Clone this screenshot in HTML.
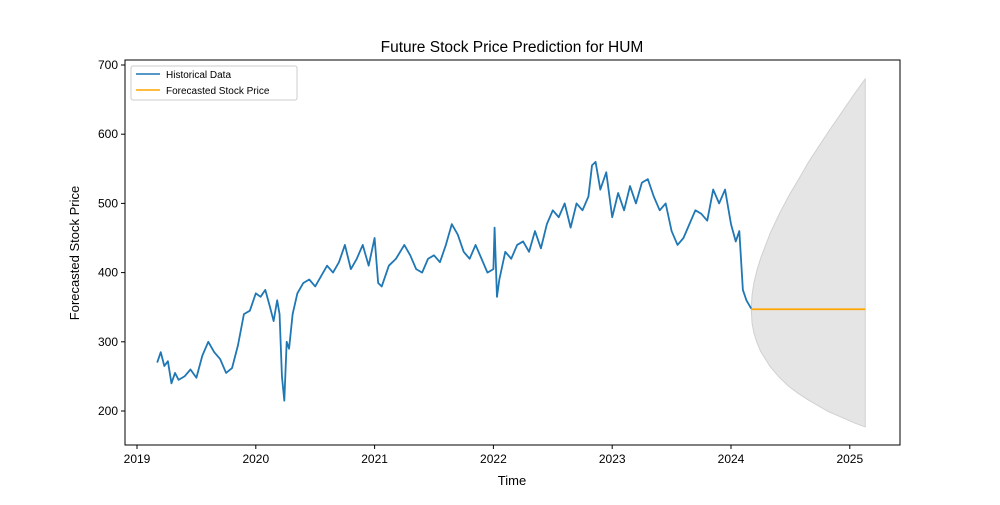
<!DOCTYPE html>
<html><head><meta charset="utf-8"><style>
body{margin:0;background:#fff;}
svg{font-family:"Liberation Sans","DejaVu Sans",sans-serif;}
</style></head><body>
<svg id="chart" width="1000" height="500" viewBox="0 0 1000 500">
<rect width="1000" height="500" fill="#fff"/>
<text x="512" y="52" font-size="15.5" text-anchor="middle">Future Stock Price Prediction for HUM</text>
<text x="512" y="485" font-size="13" text-anchor="middle">Time</text>
<text transform="translate(79,253) rotate(-90)" font-size="13" text-anchor="middle">Forecasted Stock Price</text>
<g id="band"></g><g id="hist"></g><g id="fc"></g><g id="axes"></g>
<g>
<rect x="131" y="66" width="166" height="34" fill="#fff" stroke="#ccc" rx="2"/>
<line x1="136" y1="74" x2="160" y2="74" stroke="#1f77b4" stroke-width="1.5"/>
<text x="166" y="78" font-size="10">Historical Data</text>
<line x1="136" y1="90" x2="160" y2="90" stroke="#ffa500" stroke-width="1.5"/>
<text x="166" y="94" font-size="10">Forecasted Stock Price</text>
</g>
</svg>
<script>
const histDates=[
2019.17,2019.2,2019.23,2019.26,2019.29,2019.32,2019.35,2019.4,2019.45,2019.5,2019.55,2019.6,2019.65,2019.7,2019.75,2019.8,2019.85,2019.9,2019.95,
2020.0,2020.04,2020.08,2020.12,2020.15,2020.18,2020.2,2020.22,2020.24,2020.26,2020.28,2020.31,2020.35,2020.4,2020.45,2020.5,2020.55,2020.6,2020.65,2020.7,2020.75,2020.8,2020.85,2020.9,2020.95,
2021.0,2021.03,2021.06,2021.12,2021.18,2021.25,2021.3,2021.35,2021.4,2021.45,2021.5,2021.55,2021.6,2021.65,2021.7,2021.75,2021.8,2021.85,2021.9,2021.95,
2022.0,2022.01,2022.03,2022.05,2022.1,2022.15,2022.2,2022.25,2022.3,2022.35,2022.4,2022.45,2022.5,2022.55,2022.6,2022.65,2022.7,2022.75,2022.8,2022.83,2022.86,2022.9,2022.95,
2023.0,2023.05,2023.1,2023.15,2023.2,2023.25,2023.3,2023.35,2023.4,2023.45,2023.5,2023.55,2023.6,2023.65,2023.7,2023.75,2023.8,2023.85,2023.9,2023.95,
2024.0,2024.04,2024.07,2024.1,2024.13,2024.17];
const histValues=[
270,285,265,272,240,255,245,250,260,248,280,300,285,275,255,262,295,340,345,
370,365,375,350,330,360,340,250,215,300,290,340,370,385,390,380,395,410,400,415,440,405,420,440,410,
450,385,380,410,420,440,425,405,400,420,425,415,440,470,455,430,420,440,420,400,
405,465,365,390,430,420,440,445,430,460,435,470,490,480,500,465,500,490,510,555,560,520,545,
480,515,490,525,500,530,535,510,490,500,460,440,450,470,490,485,475,520,500,520,
470,445,460,375,360,348];
const fcDates=[2024.17,2024.178,2024.194,2024.218,2024.25,2024.33,2024.41,2024.49,2024.57,2024.65,2024.73,2024.81,2024.89,2024.97,2025.05,2025.13];
const fcValues=[347,347,347,347,347,347,347,347,347,347,347,347,347,347,347,347];
const fcUpper=[347,369,386,403,421,457,486,512,535,559,580,601,621,641,661,680];
const fcLower=[347,326,312,299,286,264,248,235,225,216,208,200,194,188,182,177];
const xTicks=[2019,2020,2021,2022,2023,2024,2025];
const yTicks=[200,300,400,500,600,700];
const NS="http://www.w3.org/2000/svg";
const L=125,R=900,T=60,B=445;
const X=d=>137+(d-2019)*118.8;
const Y=v=>411-(v-200)*0.692;
function mk(tag,attrs,parent){const e=document.createElementNS(NS,tag);for(const k in attrs)e.setAttribute(k,attrs[k]);document.getElementById(parent).appendChild(e);return e;}
let bp=fcDates.map((d,i)=>X(d)+","+Y(fcUpper[i])).join(" ")+" "+fcDates.map((d,i)=>X(d)+","+Y(fcLower[i])).reverse().join(" ");
const band=mk("polygon",{points:bp,fill:"#e5e5e5",stroke:"#d0d0d0","stroke-width":1,"stroke-linejoin":"round"},"band");


const hl=mk("polyline",{points:histDates.map((d,i)=>X(d)+","+Y(histValues[i])).join(" "),fill:"none",stroke:"#1f77b4","stroke-width":1.8,"stroke-linejoin":"round"},"hist");


const fl=mk("polyline",{points:fcDates.map((d,i)=>X(d)+","+Y(fcValues[i])).join(" "),fill:"none",stroke:"#ffa500","stroke-width":1.8},"fc");


const fr=mk("rect",{x:L,y:T,width:R-L,height:B-T,fill:"none",stroke:"#000","stroke-width":1},"axes");


xTicks.forEach(t=>{
  const x=X(t);
  const tk=mk("line",{x1:x,y1:B,x2:x,y2:B+4,stroke:"#000"},"axes");
  
  
  const tx=mk("text",{x:x,y:B+18,"font-size":12,"text-anchor":"middle"},"axes");
  tx.textContent=t;
  
  
});
yTicks.forEach(t=>{
  const y=Y(t);
  const tk=mk("line",{x1:L-4,y1:y,x2:L,y2:y,stroke:"#000"},"axes");
  
  
  const tx=mk("text",{x:L-7,y:y+4,"font-size":12,"text-anchor":"end"},"axes");
  tx.textContent=t;
  
  
});
</script>
</body></html>
